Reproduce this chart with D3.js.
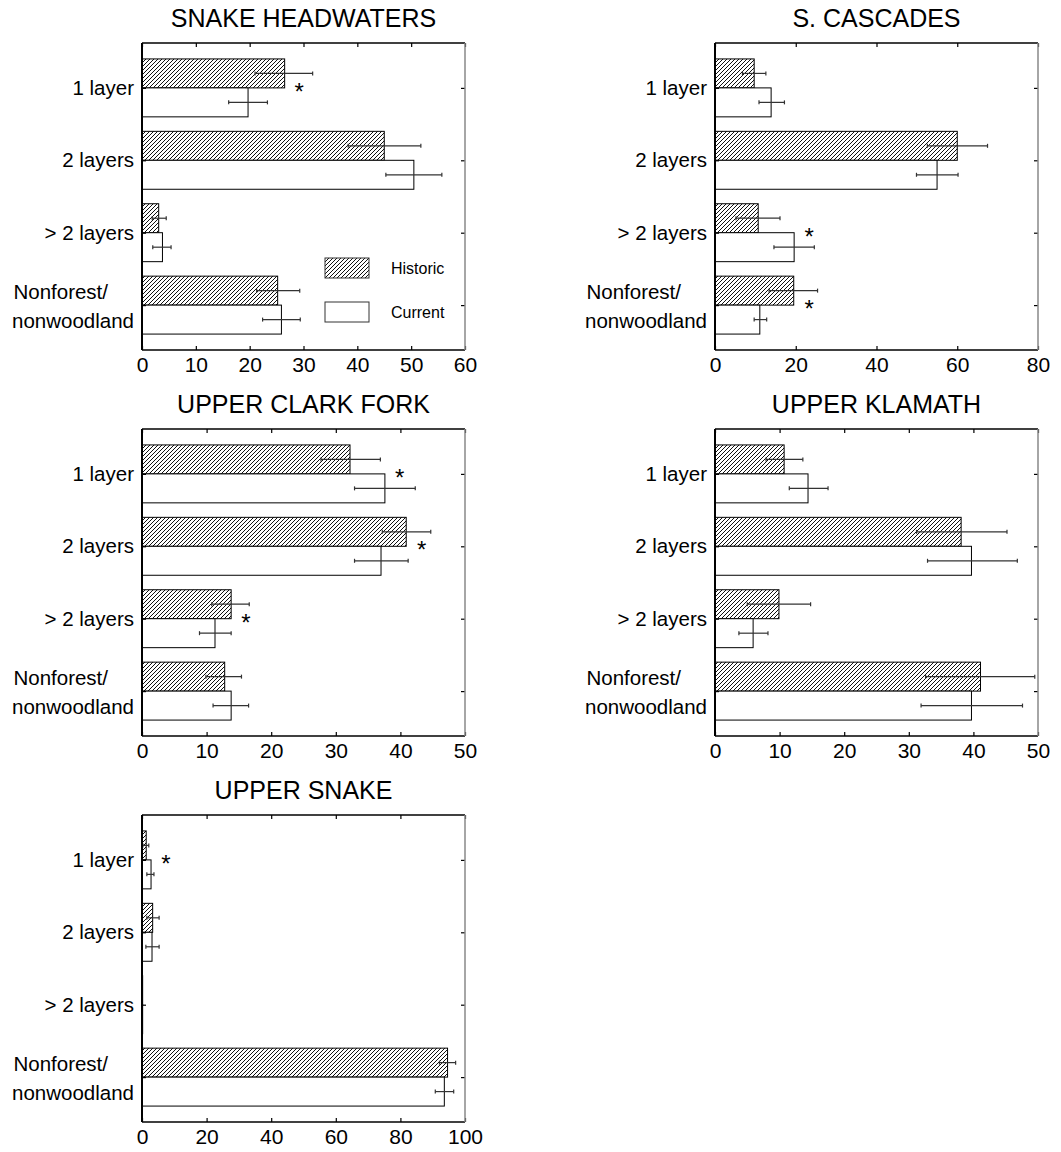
<!DOCTYPE html>
<html>
<head>
<meta charset="utf-8">
<script src="https://cdn.jsdelivr.net/npm/d3@7"></script>
<style>
  body { margin: 0; background: #fff; }
  text { font-family: "Liberation Sans", Arial, sans-serif; fill: #000; }
</style>
</head>
<body>
<div id="viz"></div>
<script>

const categories = ["1 layer", "2 layers", "> 2 layers", "Nonforest/\nnonwoodland"]
const regions = ["SNAKE HEADWATERS", "S. CASCADES", "UPPER CLARK FORK", "UPPER KLAMATH", "UPPER SNAKE"]
const xMaxes = [60, 80, 50, 50, 100]
const xSteps = [10, 20, 10, 10, 20]

const historic = [
  [26.5, 45.0, 3.1, 25.2],
  [9.7, 60.0, 10.7, 19.5],
  [32.2, 40.9, 13.8, 12.8],
  [10.7, 38.1, 9.9, 41.1],
  [1.3, 3.3, 0.2, 94.6]
]
const historicLow = [
  [21.0, 38.3, 1.9, 21.3],
  [6.8, 52.6, 5.2, 13.4],
  [27.7, 37.2, 10.8, 9.9],
  [7.9, 31.2, 5.0, 32.6],
  [0.3, 1.5, 0.2, 92.1]
]
const historicHigh = [
  [31.7, 51.8, 4.5, 29.3],
  [12.6, 67.5, 16.1, 25.4],
  [36.9, 44.7, 16.6, 15.4],
  [13.6, 45.2, 14.8, 49.5],
  [2.1, 5.3, 0.2, 97.1]
]
const current = [
  [19.7, 50.5, 3.8, 25.9],
  [13.9, 55.0, 19.6, 11.1],
  [37.6, 37.0, 11.3, 13.8],
  [14.4, 39.7, 5.9, 39.7],
  [2.8, 3.1, 0.2, 93.6]
]
const currentLow = [
  [16.1, 45.3, 2.0, 22.4],
  [10.9, 49.9, 14.6, 9.7],
  [32.9, 32.9, 8.9, 11.0],
  [11.5, 32.9, 3.7, 31.9],
  [1.5, 1.2, 0.2, 90.8]
]
const currentHigh = [
  [23.3, 55.7, 5.4, 29.4],
  [17.2, 60.2, 24.6, 12.8],
  [42.3, 41.2, 13.8, 16.5],
  [17.5, 46.8, 8.2, 47.6],
  [3.7, 5.3, 0.2, 96.5]
]

// significant differences (asterisks): panel, category, x position
const starPanels = [0, 1, 1, 2, 2, 2, 4]
const starCategories = [0, 2, 3, 0, 1, 2, 0]
const starValues = [29.2, 23.3, 23.3, 39.9, 43.3, 16.1, 7.4]

const legendLabels = ["Historic", "Current"]

const width = 1061
const height = 1152
const colLeft = [142, 715]
const rowTop = [43, 429, 815]
const w = 323
const h = 307

const svg = d3.select("#viz").append("svg")
  .attr("width", width)
  .attr("height", height)

const pattern = svg.append("defs").append("pattern")
  .attr("id", "hatch")
  .attr("patternUnits", "userSpaceOnUse")
  .attr("width", 4)
  .attr("height", 4)
pattern.append("rect").attr("width", 4).attr("height", 4).attr("fill", "#fff")
pattern.append("path")
  .attr("d", "M-1,1 l2,-2 M0,4 l4,-4 M3,5 l2,-2")
  .attr("stroke", "#111")
  .attr("stroke-width", 1)

regions.forEach((title, p) => {
  const g = svg.append("g")
    .attr("transform", `translate(${colLeft[p % 2]},${rowTop[Math.floor(p / 2)]})`)

  const x = d3.scaleLinear().domain([0, xMaxes[p]]).range([0, w])
  const y = d3.scalePoint().domain(categories).range([0, h]).padding(0.62)
  const barH = y.step() * 0.4
  const ticks = d3.range(0, xMaxes[p] + 1, xSteps[p])

  const rows = categories.map((c, i) => ({
    cat: c,
    hist: historic[p][i], histLo: historicLow[p][i], histHi: historicHigh[p][i],
    cur: current[p][i], curLo: currentLow[p][i], curHi: currentHigh[p][i]
  }))

  // bars
  g.selectAll(".hist").data(rows).enter().append("rect")
    .attr("x", x(0))
    .attr("y", d => y(d.cat) - barH)
    .attr("width", d => x(d.hist) - x(0))
    .attr("height", barH)
    .attr("fill", "url(#hatch)")
    .attr("stroke", "#000")
    .attr("stroke-width", 1)

  g.selectAll(".cur").data(rows).enter().append("rect")
    .attr("x", x(0))
    .attr("y", d => y(d.cat))
    .attr("width", d => x(d.cur) - x(0))
    .attr("height", barH)
    .attr("fill", "#fff")
    .attr("stroke", "#000")
    .attr("stroke-width", 1)

  // error bars
  const errs = []
  rows.forEach(d => {
    if (d.histHi > d.histLo) errs.push({ lo: d.histLo, hi: d.histHi, yc: y(d.cat) - barH / 2 })
    if (d.curHi > d.curLo) errs.push({ lo: d.curLo, hi: d.curHi, yc: y(d.cat) + barH / 2 })
  })
  const eb = g.selectAll(".err").data(errs).enter().append("g")
    .attr("stroke", "#333")
    .attr("stroke-width", 1.2)
  eb.append("line")
    .attr("x1", d => x(d.lo)).attr("x2", d => x(d.hi))
    .attr("y1", d => d.yc).attr("y2", d => d.yc)
  eb.append("line")
    .attr("x1", d => x(d.lo)).attr("x2", d => x(d.lo))
    .attr("y1", d => d.yc - 2).attr("y2", d => d.yc + 2)
  eb.append("line")
    .attr("x1", d => x(d.hi)).attr("x2", d => x(d.hi))
    .attr("y1", d => d.yc - 2).attr("y2", d => d.yc + 2)

  // axes
  const bottom = g.append("g")
    .attr("transform", `translate(0,${h})`)
    .call(d3.axisBottom(x).tickValues(ticks).tickSizeInner(-4).tickSizeOuter(0).tickPadding(7))
  const top = g.append("g")
    .call(d3.axisTop(x).tickValues(ticks).tickSizeInner(-4).tickSizeOuter(0).tickFormat(""))
  const left = g.append("g")
    .call(d3.axisLeft(y).tickSizeInner(-4).tickSizeOuter(0).tickPadding(8))
  const right = g.append("g")
    .attr("transform", `translate(${w},0)`)
    .call(d3.axisRight(y).tickSizeInner(-4).tickSizeOuter(0).tickFormat(""))

  ;[bottom, top, left, right].forEach(a => {
    a.select(".domain").remove()
    a.attr("font-family", null)
    a.selectAll("line").attr("stroke", "#000").attr("stroke-width", 1.2)
  })
  bottom.selectAll("text").attr("font-size", 21)
  left.selectAll("text").attr("font-size", 20.5)
    .each(function (d) {
      if (d.indexOf("\n") < 0) return
      const parts = d.split("\n")
      const t = d3.select(this).text("").attr("dy", null)
      t.append("tspan").attr("x", -34).attr("y", -14).attr("dy", "0.35em").text(parts[0])
      t.append("tspan").attr("x", -8).attr("y", 15).attr("dy", "0.35em").text(parts[1])
    })

  // frame
  g.append("line").attr("x1", 0).attr("x2", w).attr("y1", 0).attr("y2", 0)
    .attr("stroke", "#000").attr("stroke-width", 1.5)
  g.append("line").attr("x1", 0).attr("x2", w).attr("y1", h).attr("y2", h)
    .attr("stroke", "#000").attr("stroke-width", 1.5)
  g.append("line").attr("x1", 0).attr("x2", 0).attr("y1", 0).attr("y2", h)
    .attr("stroke", "#000").attr("stroke-width", 2)
  g.append("line").attr("x1", w).attr("x2", w).attr("y1", 0).attr("y2", h)
    .attr("stroke", "#888").attr("stroke-width", 1.5)

  // title
  g.append("text")
    .attr("x", w / 2)
    .attr("y", -16)
    .attr("text-anchor", "middle")
    .attr("font-size", 25)
    .text(title)

  // asterisks
  starPanels.forEach((sp, k) => {
    if (sp !== p) return
    g.append("text")
      .attr("x", x(starValues[k]))
      .attr("y", y(categories[starCategories[k]]) + 12)
      .attr("text-anchor", "middle")
      .attr("font-size", 24)
      .text("*")
  })

  // legend only in first panel
  if (p === 0) {
    const lg = g.append("g").attr("transform", "translate(183,215)")
    legendLabels.forEach((lab, i) => {
      lg.append("rect")
        .attr("x", 0).attr("y", i * 44)
        .attr("width", 44).attr("height", 20)
        .attr("fill", i === 0 ? "url(#hatch)" : "#fff")
        .attr("stroke", "#333")
        .attr("stroke-width", 1)
      lg.append("text")
        .attr("x", 66).attr("y", i * 44 + 10)
        .attr("dy", "0.35em")
        .attr("font-size", 16)
        .text(lab)
    })
  }
})

</script>
</body>
</html>
